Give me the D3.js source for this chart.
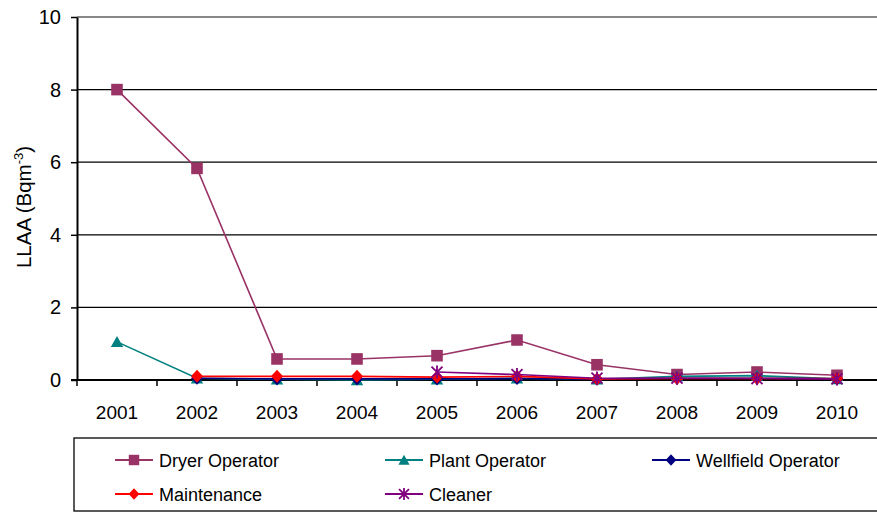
<!DOCTYPE html>
<html>
<head>
<meta charset="utf-8">
<script src="https://cdn.jsdelivr.net/npm/d3@7"></script>
<style>
  body { margin: 0; background: #fff; }
  svg { font-family: "Liberation Sans", Arial, sans-serif; }
</style>
</head>
<body>
<div id="chart"></div>
<script>
// data
var years = ["2001","2002","2003","2004","2005","2006","2007","2008","2009","2010"];
var dryerOperator = [8.0, 5.83, 0.58, 0.58, 0.67, 1.1, 0.42, 0.15, 0.22, 0.13];
var plantOperator = [1.05, 0.05, 0.02, 0.0, 0.02, 0.05, 0.02, 0.1, 0.12, 0.03];
var wellfieldOperator = [null, 0.05, 0.03, 0.03, 0.03, 0.04, 0.02, 0.05, 0.05, 0.03];
var maintenance = [null, 0.1, 0.1, 0.1, 0.08, 0.1, 0.03, 0.04, 0.04, 0.04];
var cleaner = [null, null, null, null, 0.22, 0.15, 0.05, 0.05, 0.04, 0.03];
var yTicks = [0, 2, 4, 6, 8, 10];

var series = [
  {name: "Dryer Operator", values: dryerOperator, color: "#993366", symbol: "square"},
  {name: "Plant Operator", values: plantOperator, color: "#008080", symbol: "triangle"},
  {name: "Wellfield Operator", values: wellfieldOperator, color: "#000080", symbol: "diamond"},
  {name: "Maintenance", values: maintenance, color: "#ff0000", symbol: "diamond"},
  {name: "Cleaner", values: cleaner, color: "#800080", symbol: "star"}
];

var W = 877, H = 513;
var pLeft = 77, pRight = 877, pTop = 17, pBottom = 380;

var svg = d3.select("#chart").append("svg")
  .attr("width", W).attr("height", H);

var x = d3.scaleBand().domain(years).range([pLeft, pRight]).padding(0);
var y = d3.scaleLinear().domain([0, 10]).range([pBottom, pTop]);

// gridlines
svg.append("g").selectAll("line")
  .data(yTicks.filter(function(t){ return t > 0; }))
  .enter().append("line")
    .attr("x1", pLeft).attr("x2", pRight)
    .attr("y1", function(d){ return y(d); })
    .attr("y2", function(d){ return y(d); })
    .attr("stroke", function(d){ return d == 10 ? "#888" : "#000"; })
    .attr("stroke-width", function(d){ return d == 10 ? 2 : 1.3; });

// y axis
var yAxis = svg.append("g")
  .attr("transform", "translate(" + pLeft + ",0)")
  .call(d3.axisLeft(y).tickValues(yTicks).tickSize(6).tickSizeOuter(0));
yAxis.select(".domain").attr("stroke-width", 2);
yAxis.selectAll(".tick line").attr("stroke-width", 1.5);
yAxis.selectAll("text").attr("font-size", 20).attr("fill", "#000")
  .attr("font-family", "Liberation Sans, Arial, sans-serif").attr("dx", "-7");

// x axis, ticks on band edges
var xg = svg.append("g").attr("transform", "translate(0," + pBottom + ")");
xg.append("line").attr("x1", pLeft - 6).attr("x2", pRight)
  .attr("stroke", "#000").attr("stroke-width", 2);
xg.selectAll(".xt").data(years).enter().append("line")
  .attr("x1", function(d){ return x(d); }).attr("x2", function(d){ return x(d); })
  .attr("y1", 0).attr("y2", 6).attr("stroke", "#000").attr("stroke-width", 1.5);
xg.selectAll("text").data(years).enter().append("text")
  .attr("x", function(d){ return x(d) + x.bandwidth() / 2; })
  .attr("y", 39)
  .attr("text-anchor", "middle")
  .attr("font-size", 19)
  .text(function(d){ return d; });

// y label
var yl = svg.append("text")
  .attr("transform", "translate(31,207) rotate(-90)")
  .attr("text-anchor", "middle")
  .attr("font-size", 20.5);
yl.append("tspan").text("LLAA (Bqm");
yl.append("tspan").attr("font-size", 13).attr("dy", -8).text("-3");
yl.append("tspan").attr("dy", 8).text(")");

function drawMarker(g, s, cx, cy, k) {
  k = k || 1;
  var p;
  if (s.symbol === "star") {
    var r = 5.5 * k;
    p = "M" + (cx - r) + "," + (cy - r) + "L" + (cx + r) + "," + (cy + r) +
      "M" + (cx - r) + "," + (cy + r) + "L" + (cx + r) + "," + (cy - r) +
      "M" + cx + "," + (cy - r * 1.2) + "L" + cx + "," + (cy + r * 1.2);
    g.append("path").attr("d", p).attr("stroke", s.color).attr("stroke-width", 1.8).attr("fill", "none");
    return;
  }
  if (s.symbol === "square") {
    var h = 5.8 * k;
    p = "M" + (cx - h) + "," + (cy - h) + "h" + 2 * h + "v" + 2 * h + "h" + (-2 * h) + "Z";
  } else if (s.symbol === "triangle") {
    var a = 6.2 * k, b = 5.8 * k;
    p = "M" + cx + "," + (cy - b) + "L" + (cx + a) + "," + (cy + b * 0.9) + "L" + (cx - a) + "," + (cy + b * 0.9) + "Z";
  } else {
    var dw = 6 * k, dh = 6.5 * k;
    p = "M" + cx + "," + (cy - dh) + "L" + (cx + dw) + "," + cy + "L" + cx + "," + (cy + dh) + "L" + (cx - dw) + "," + cy + "Z";
  }
  g.append("path").attr("d", p).attr("fill", s.color);
}

var line = d3.line()
  .defined(function(d){ return d != null; })
  .x(function(d, i){ return x(years[i]) + x.bandwidth() / 2; })
  .y(function(d){ return y(d); });

series.forEach(function(s) {
  var g = svg.append("g");
  g.append("path").datum(s.values)
    .attr("d", line)
    .attr("fill", "none")
    .attr("stroke", s.color)
    .attr("stroke-width", 1.6);
  s.values.forEach(function(v, i) {
    if (v == null) return;
    drawMarker(g, s, x(years[i]) + x.bandwidth() / 2, y(v));
  });
});

// legend
var lg = svg.append("g");
lg.append("rect").attr("x", 74).attr("y", 438).attr("width", 820).attr("height", 73)
  .attr("fill", "none").attr("stroke", "#000").attr("stroke-width", 1.3);
var cols = [115, 385, 652];
series.forEach(function(s, i) {
  var cx = cols[i % 3], cy = i < 3 ? 460 : 494;
  lg.append("line").attr("x1", cx).attr("x2", cx + 38).attr("y1", cy).attr("y2", cy)
    .attr("stroke", s.color).attr("stroke-width", 1.8);
  drawMarker(lg, s, cx + 19, cy, 0.9);
  lg.append("text").attr("x", cx + 44).attr("y", cy + 6.5)
    .attr("font-size", 18).text(s.name);
});
</script>
</body>
</html>
